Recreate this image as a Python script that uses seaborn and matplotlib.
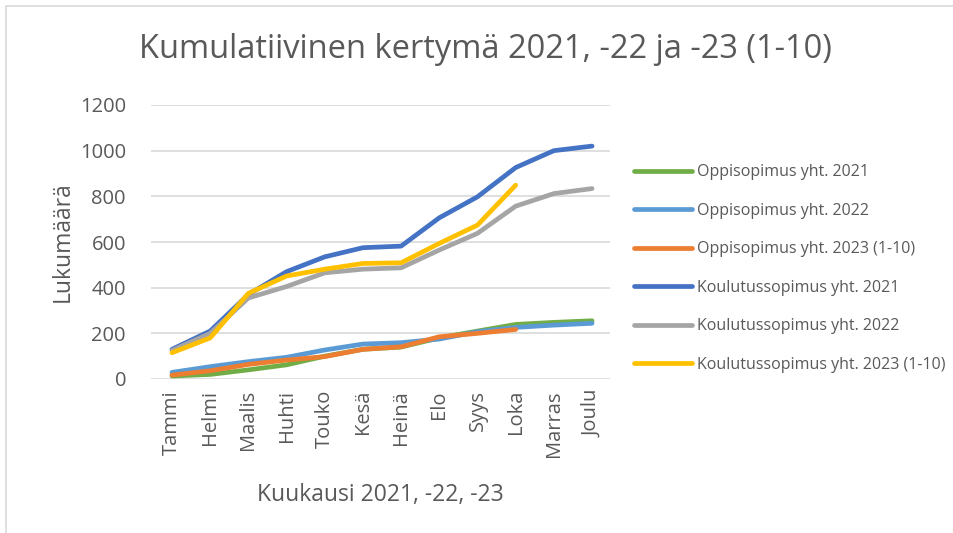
import matplotlib.pyplot as plt
import seaborn as sns
import numpy as np
import pandas as pd
from matplotlib.patches import Rectangle

# kuukaudet
months = ["Tammi", "Helmi", "Maalis", "Huhti", "Touko", "Kesä", "Heinä",
          "Elo", "Syys", "Loka", "Marras", "Joulu"]

# kumulatiiviset arvot (luettu kuvasta)
oppi_2021 = [13, 20, 40, 62, 100, 130, 140, 180, 210, 239, 248, 255]
oppi_2022 = [29, 54, 76, 95, 127, 153, 159, 175, 207, 226, 236, 244]
oppi_2023 = [17, 36, 64, 83, 98, 130, 141, 185, 200, 217, np.nan, np.nan]
koul_2021 = [130, 210, 370, 470, 535, 575, 582, 706, 798, 926, 1000, 1020]
koul_2022 = [125, 200, 355, 405, 465, 481, 487, 565, 638, 757, 812, 834]
koul_2023 = [115, 180, 375, 451, 481, 506, 509, 594, 674, 849, np.nan, np.nan]

series_names = ["Oppisopimus yht. 2021", "Oppisopimus yht. 2022",
                "Oppisopimus yht. 2023 (1-10)", "Koulutussopimus yht. 2021",
                "Koulutussopimus yht. 2022", "Koulutussopimus yht. 2023 (1-10)"]
series_vals = [oppi_2021, oppi_2022, oppi_2023, koul_2021, koul_2022, koul_2023]
colors = ["#70AD47", "#5B9BD5", "#ED7D31", "#4472C4", "#A5A5A5", "#FFC000"]

rows = []
for name, vals in zip(series_names, series_vals):
    for i, v in enumerate(vals):
        rows.append({"kk": i, "arvo": v, "sarja": name})
df = pd.DataFrame(rows).dropna()

sns.set_style("white")
plt.rcParams['font.family'] = ['Open Sans', 'DejaVu Sans']
txt = "#595959"

fig = plt.figure(figsize=(9.54, 5.33), dpi=100)
ax = fig.add_axes([151/954, (533-379)/533, (610-151)/954, (379-105)/533])

sns.lineplot(data=df, x="kk", y="arvo", hue="sarja", hue_order=series_names,
             palette=colors, linewidth=3.4, ax=ax, legend=True,
             solid_capstyle="round", solid_joinstyle="round")

ax.set_xlim(-0.55, 11.47)
ax.set_ylim(0, 1200)
ax.set_yticks(range(0, 1201, 200))
ax.set_xticks(range(12))
ax.set_xticklabels(months, rotation=90)
ax.grid(axis="y", color="#D9D9D9", linewidth=1.2)
ax.set_axisbelow(True)
for s in ax.spines.values():
    s.set_visible(False)
ax.tick_params(axis="both", length=0, labelsize=14.5, colors=txt, pad=8)
ax.tick_params(axis="y", pad=18)

ax.set_xlabel("Kuukausi 2021, -22, -23", fontsize=16.5, color=txt, labelpad=19)
ax.set_ylabel("Lukumäärä", fontsize=16.5, color=txt, labelpad=4)
fig.text(485/954, 1 - 50/533, "Kumulatiivinen kertymä 2021, -22 ja -23 (1-10)",
         ha="center", va="center", fontsize=23.5, color=txt)

leg = ax.legend(loc="upper left", bbox_to_anchor=(628/954, 1 - 158/533),
                bbox_transform=fig.transFigure, frameon=False, fontsize=11.5,
                handlelength=3.6, handletextpad=0.3, labelspacing=1.41,
                borderaxespad=0)
for t in leg.get_texts():
    t.set_color(txt)
for h in leg.get_lines():
    h.set_linewidth(3.4)

# kehys
fig.patches.append(Rectangle((6/954, -0.1), 1.2, 1 - 6/533 + 0.1,
                             transform=fig.transFigure, fill=False,
                             edgecolor="#D9D9D9", linewidth=1.2))

plt.savefig("out.png", dpi=100)
